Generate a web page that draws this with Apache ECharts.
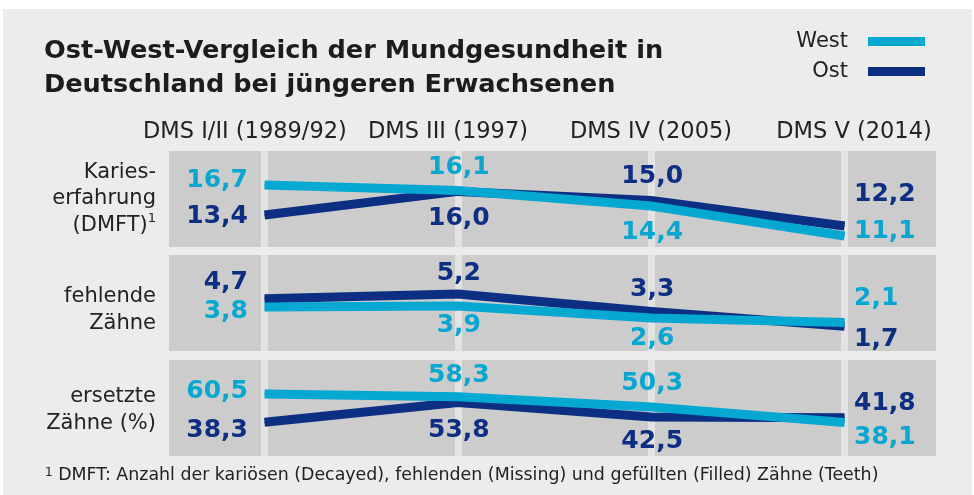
<!DOCTYPE html>
<html>
<head>
<meta charset="utf-8">
<script src="https://cdn.jsdelivr.net/npm/echarts@6/dist/echarts.min.js"></script>
<style>
  html, body { margin: 0; padding: 0; background: #ffffff; }
  #frame { position: absolute; left: 3px; top: 9px; width: 969px; height: 486px; background: #ebeceb; }
  #chart { position: absolute; left: 0; top: 0; width: 974px; height: 495px; }
</style>
</head>
<body>
<div id="frame"></div>
<div id="chart"></div>
<script>
// Erhebungswellen
var periods = ['DMS I/II (1989/92)', 'DMS III (1997)', 'DMS IV (2005)', 'DMS V (2014)'];

// Karieserfahrung (DMFT)
var westKaries = [16.7, 16.1, 14.4, 11.1];
var ostKaries = [13.4, 16.0, 15.0, 12.2];
// fehlende Zähne
var westFehlend = [3.8, 3.9, 2.6, 2.1];
var ostFehlend = [4.7, 5.2, 3.3, 1.7];
// ersetzte Zähne (%)
var westErsetzt = [60.5, 58.3, 50.3, 38.1];
var ostErsetzt = [38.3, 53.8, 42.5, 41.8];

var rowNames = [
    'Karies-\nerfahrung\n(DMFT){sup|1}',
    'fehlende\nZähne',
    'ersetzte\nZähne (%)'
];

var westColor = '#04a8d1';
var ostColor = '#0c2f83';
var textColor = '#222222';
var font = 'DejaVu Sans';

// Achsenbereiche je Zeile
var yRange = [[9.89, 20.44], [-0.99, 9.44], [11.7, 87.3]];
var rowTop = [151, 255, 360];
var rowNamePad = [[0, 0, 0, 0], [14, 0, 0, 0], [4, 0, 0, 0]];

// vertikale Verschiebung der Wertbeschriftung (px, relativ zum Punkt)
var westDy = [[-6, -24, 26, -5], [4, 19, 20, -25], [-4, -22, -24, 14]];
var ostDy = [[0, 26, -25, -32], [-17, -22, -23, 12], [7, 27, 24, -15]];

var myChart = echarts.init(document.getElementById('chart'));

function fmt(v) {
    return v.toFixed(1).replace('.', ',');
}

function pointsFor(values, dys) {
    return values.map(function (v, i) {
        var lab = {};
        if (i === 0) {
            lab = { position: 'left', distance: 16, offset: [0, dys[i] + 1] };
        } else if (i === values.length - 1) {
            lab = { position: 'right', distance: 9, offset: [0, dys[i] + 1] };
        } else {
            lab = { position: 'inside', offset: [1, dys[i] + 1] };
        }
        return { value: [i, v], label: lab };
    });
}

var grids = [], xAxes = [], yAxes = [], series = [];
var westRows = [westKaries, westFehlend, westErsetzt];
var ostRows = [ostKaries, ostFehlend, ostErsetzt];

for (var r = 0; r < 3; r++) {
    grids.push({
        left: 169, right: 38, top: rowTop[r], height: 96,
        show: true, backgroundColor: '#cccccc', borderWidth: 0
    });
    xAxes.push({
        type: 'value', gridIndex: r, min: -0.494, max: 3.473, show: false
    });
    yAxes.push({
        type: 'value', gridIndex: r, min: yRange[r][0], max: yRange[r][1],
        name: rowNames[r], nameLocation: 'middle', nameRotate: 0, nameGap: 13,
        nameTextStyle: {
            fontFamily: font, fontSize: 21, lineHeight: 26.5, color: textColor,
            align: 'right', verticalAlign: 'middle', padding: rowNamePad[r],
            rich: { sup: { fontFamily: font, fontSize: 13, lineHeight: 26.5, verticalAlign: 'top', color: textColor } }
        },
        axisLine: { show: false }, axisTick: { show: false },
        axisLabel: { show: false }, splitLine: { show: false }
    });
    series.push({
        name: 'Ost', type: 'line', xAxisIndex: r, yAxisIndex: r, z: 2,
        data: pointsFor(ostRows[r], ostDy[r]),
        symbol: 'circle', symbolSize: 1, showSymbol: true, color: ostColor,
        lineStyle: { width: 9, color: ostColor, join: 'miter' },
        label: {
            show: true, color: ostColor, fontFamily: font, fontSize: 25, fontWeight: 'bold',
            formatter: function (p) { return fmt(p.value[1]); }
        },
        markLine: {
            silent: true, z: 1, symbol: ['none', 'none'],
            label: { show: false },
            lineStyle: { color: '#e3e3e3', width: 7, type: 'solid' },
            emphasis: { disabled: true },
            data: [{ xAxis: 0 }, { xAxis: 1 }, { xAxis: 2 }, { xAxis: 3 }]
        }
    });
    series.push({
        name: 'West', type: 'line', xAxisIndex: r, yAxisIndex: r, z: 3,
        data: pointsFor(westRows[r], westDy[r]),
        symbol: 'circle', symbolSize: 1, showSymbol: true, color: westColor,
        lineStyle: { width: 9, color: westColor, join: 'miter' },
        label: {
            show: true, color: westColor, fontFamily: font, fontSize: 25, fontWeight: 'bold',
            formatter: function (p) { return fmt(p.value[1]); }
        }
    });
}

// Spaltenköpfe oben
xAxes.push({
    type: 'value', gridIndex: 0, position: 'top', min: -0.374, max: 3.404,
    axisLine: { show: false }, axisTick: { show: false }, splitLine: { show: false },
    axisLabel: {
        customValues: [0, 1, 2, 3], margin: 7,
        fontFamily: font, fontSize: 22.5, color: textColor,
        formatter: function (v) { return periods[Math.round(v)]; }
    }
});

var option = {
    animation: false,
    textStyle: { fontFamily: font },
    title: [{
        text: 'Ost-West-Vergleich der Mundgesundheit in\nDeutschland bei jüngeren Erwachsenen',
        left: 39, top: 29,
        textStyle: { fontFamily: font, fontSize: 25.6, fontWeight: 'bold', lineHeight: 34, color: '#1c1c1c' }
    }, {
        text: '{sup|1} DMFT: Anzahl der kariösen (Decayed), fehlenden (Missing) und gefüllten (Filled) Zähne (Teeth)',
        left: 40, top: 462,
        textStyle: {
            fontFamily: font, fontSize: 17.4, color: textColor, fontWeight: 'normal',
            rich: { sup: { fontFamily: font, fontSize: 12, verticalAlign: 'top', color: textColor } }
        }
    }],
    legend: {
        data: ['West', 'Ost'],
        orient: 'vertical', right: 44, top: 26,
        align: 'right', icon: 'rect',
        itemWidth: 57, itemHeight: 9, itemGap: 9,
        selectedMode: false,
        textStyle: { fontFamily: font, fontSize: 21, color: textColor, padding: [0, 15, 0, 0] }
    },
    grid: grids,
    xAxis: xAxes,
    yAxis: yAxes,
    series: series
};

myChart.setOption(option);
</script>
</body>
</html>
